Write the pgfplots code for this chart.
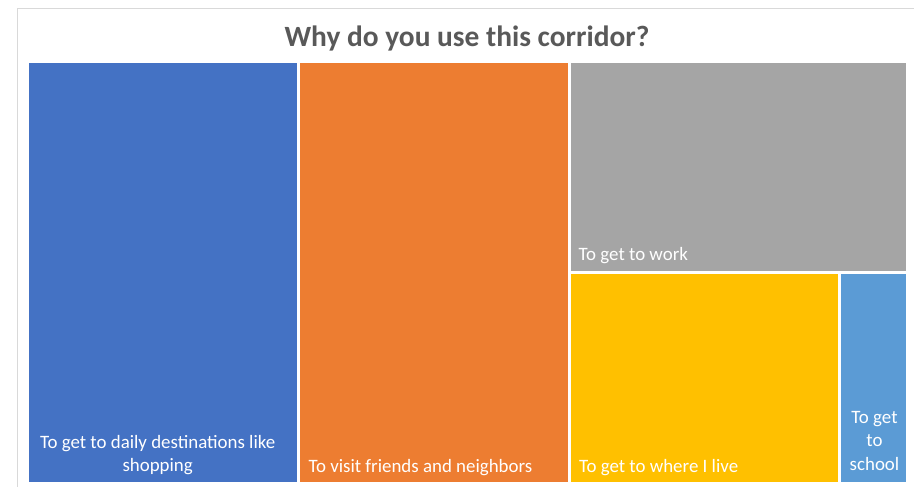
\documentclass[border=0pt]{standalone}
\usepackage{fontspec}
\setmainfont{Carlito}
\usepackage{pgfplots}
\pgfplotsset{compat=1.18}
\definecolor{cBlue}{HTML}{4472C4}
\definecolor{cOrange}{HTML}{ED7D31}
\definecolor{cGray}{HTML}{A5A5A5}
\definecolor{cGold}{HTML}{FFC000}
\definecolor{cLight}{HTML}{5B9BD5}
\definecolor{cTitle}{HTML}{595959}
\definecolor{cFrame}{HTML}{D9D9D9}
\begin{document}
\begin{tikzpicture}
\useasboundingbox[fill=white] (0,0) rectangle (914bp,487bp);
\draw[cFrame, line width=1bp] (17.5bp,0) -- (17.5bp,478.5bp) -- (914bp,478.5bp);
% Treemap: values 8, 8, 5, 4, 1 (area = value; x range 0..26, y range 0..1)
\begin{axis}[
  at={(27.5bp,3.5bp)}, anchor=south west,
  width=880bp, height=422bp, scale only axis,
  xmin=0, xmax=26, ymin=0, ymax=1,
  hide axis, clip=false,
]
\addplot[fill=cBlue, draw=white, line width=3bp, mark=none] coordinates {(0,0) (8,0) (8,1) (0,1)} -- cycle;
\addplot[fill=cOrange, draw=white, line width=3bp, mark=none] coordinates {(8,0) (16,0) (16,1) (8,1)} -- cycle;
\addplot[fill=cGray, draw=white, line width=3bp, mark=none] coordinates {(16,0.5) (26,0.5) (26,1) (16,1)} -- cycle;
\addplot[fill=cGold, draw=white, line width=3bp, mark=none] coordinates {(16,0) (24,0) (24,0.5) (16,0.5)} -- cycle;
\addplot[fill=cLight, draw=white, line width=3bp, mark=none] coordinates {(24,0) (26,0) (26,0.5) (24,0.5)} -- cycle;
\end{axis}
% Title
\node[anchor=base, text=cTitle, font=\fontsize{29.4bp}{35bp}\selectfont\bfseries, inner sep=0] at (467bp,440bp) {Why do you use this corridor?};
% Labels
\tikzset{lab/.style={text=white, font=\fontsize{18.9bp}{23bp}\selectfont, inner sep=0}}
\node[lab, anchor=base] at (157.7bp,38.7bp) {To get to daily destinations like};
\node[lab, anchor=base] at (157.7bp,15.5bp) {shopping};
\node[lab, anchor=base west] at (308.3bp,14.3bp) {To visit friends and neighbors};
\node[lab, anchor=base west] at (578.5bp,226.3bp) {To get to work};
\node[lab, anchor=base west] at (578.8bp,14.3bp) {To get to where I live};
\node[lab, anchor=base] at (874.5bp,63.7bp) {To get};
\node[lab, anchor=base] at (874.5bp,40bp) {to};
\node[lab, anchor=base] at (874.5bp,16.3bp) {school};
\end{tikzpicture}
\end{document}
